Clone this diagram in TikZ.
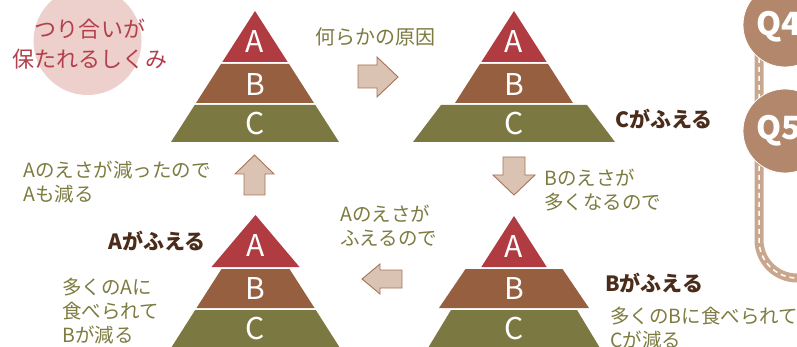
\documentclass[tikz,border=0pt]{standalone}
\usepackage{fontspec}
\setmainfont{Noto Sans CJK JP}
\definecolor{colA}{HTML}{B03C42}
\definecolor{colB}{HTML}{955F40}
\definecolor{colC}{HTML}{7B7842}
\definecolor{arrFill}{HTML}{DBC3B3}
\definecolor{arrLine}{HTML}{A77258}
\definecolor{olive}{HTML}{7D7B40}
\definecolor{darkbrown}{HTML}{4B2C1A}
\definecolor{titlered}{HTML}{B23F4B}
\definecolor{pinkc}{HTML}{EDD0CB}
\definecolor{qcol}{HTML}{B2876B}
\definecolor{trackcol}{HTML}{C9A78F}
\begin{document}
\begin{tikzpicture}[x=1pt,y=-1pt,
  bandA/.style={fill=colA},
  bandB/.style={fill=colB},
  bandC/.style={fill=colC},
  blockarrow/.style={fill=arrFill, draw=arrLine, line width=0.9pt, line join=miter},
  lbl/.style={text=olive, font=\fontsize{19.5}{24}\selectfont, align=left, anchor=west, inner sep=0pt},
  headlbl/.style={text=darkbrown, font=\bfseries\fontsize{21}{25}\selectfont, anchor=west, inner sep=0pt},
  letter/.style={text=white, font=\fontsize{30}{30}\selectfont, inner sep=0pt},
  qtext/.style={text=white, font=\bfseries\fontsize{32}{32}\selectfont, anchor=west, inner sep=0pt}]
\clip (0,0) rectangle (797,347);
% title circle
\fill[pinkc] (87.5,41) circle (54);
\node[text=titlered, font=\fontsize{22}{30}\selectfont, align=center, inner sep=0pt] (title) at (90,44) {つり合いが\\保たれるしくみ};
% track and Q circles
\draw[trackcol, line width=9pt, rounded corners=38pt] (759,40) -- (759,278) -- (820,278);
\draw[white, line width=1.5pt, dash pattern=on 5pt off 4pt, rounded corners=38pt] (759,40) -- (759,278) -- (820,278);
\fill[qcol, draw=white, line width=0.8pt] (785,25) circle (42);
\fill[qcol, draw=white, line width=0.8pt] (785,131) circle (42);
\node[qtext] (q4) at (756,27) {Q4};
\node[qtext] (q5) at (756,131) {Q5};
% pyramid 1 (top-left)
\fill[bandA] (255,11) -- (287.7,62) -- (222.3,62) -- cycle;
\fill[bandB] (221,64) -- (289,64) -- (314,103) -- (196,103) -- cycle;
\fill[bandC] (194.7,105) -- (315.3,105) -- (339,142) -- (171,142) -- cycle;
\node[letter] (p1a) at (255,42) {A};
\node[letter] (p1b) at (255,85) {B};
\node[letter] (p1c) at (255,124) {C};
% pyramid 2 (top-right)
\fill[bandA] (514,11) -- (546.7,62) -- (481.3,62) -- cycle;
\fill[bandB] (480,64) -- (548,64) -- (573,103) -- (455,103) -- cycle;
\fill[bandC] (441,105) -- (587,105) -- (615,142) -- (413,142) -- cycle;
\node[letter] (p2a) at (514,42) {A};
\node[letter] (p2b) at (514,85) {B};
\node[letter] (p2c) at (514,124) {C};
% pyramid 3 (bottom-right)
\fill[bandA] (514,216) -- (546.7,267) -- (481.3,267) -- cycle;
\fill[bandB] (465.5,269) -- (562.5,269) -- (589,308) -- (439,308) -- cycle;
\fill[bandC] (451,310) -- (577,310) -- (600,348) -- (428,348) -- cycle;
\node[letter] (p3a) at (514,247) {A};
\node[letter] (p3b) at (514,289) {B};
\node[letter] (p3c) at (514,329) {C};
% pyramid 4 (bottom-left)
\fill[bandA] (255.5,215) -- (299.5,267) -- (211.5,267) -- cycle;
\fill[bandB] (221.5,269) -- (289.5,269) -- (314.5,308) -- (196.5,308) -- cycle;
\fill[bandC] (195.2,310) -- (315.8,310) -- (340,348) -- (171,348) -- cycle;
\node[letter] (p4a) at (255.5,246) {A};
\node[letter] (p4b) at (255.5,289) {B};
\node[letter] (p4c) at (255.5,329) {C};
% block arrows
\draw[blockarrow] (358,65) -- (377,65) -- (377,57) -- (398,77) -- (377,97) -- (377,88) -- (358,88) -- cycle;
\draw[blockarrow] (503,157) -- (525,157) -- (525,175) -- (535,175) -- (514,195) -- (493,175) -- (503,175) -- cycle;
\draw[blockarrow] (244,195) -- (244,174) -- (235,174) -- (254.5,155) -- (274,174) -- (265,174) -- (265,195) -- cycle;
\draw[blockarrow] (402,270) -- (380,270) -- (380,264) -- (362,279) -- (380,294) -- (380,288) -- (402,288) -- cycle;
% labels
\node[lbl, font=\fontsize{20}{24}\selectfont] (cause) at (315,37) {何らかの原因};
\node[headlbl] (cinc) at (615,119) {Cがふえる};
\node[lbl] (bfood) at (544,190) {Bのえさが\\多くなるので};
\node[headlbl] (binc) at (605,283) {Bがふえる};
\node[lbl] (beaten) at (610,328) {多くのBに食べられて\\Cが減る};
\node[lbl] (afood) at (340,226) {Aのえさが\\ふえるので};
\node[headlbl] (ainc) at (108,241) {Aがふえる};
\node[lbl] (aeaten) at (62,311) {多くのAに\\食べられて\\Bが減る};
\node[lbl] (adec) at (23,182) {Aのえさが減ったので\\Aも減る};
\end{tikzpicture}
\end{document}
